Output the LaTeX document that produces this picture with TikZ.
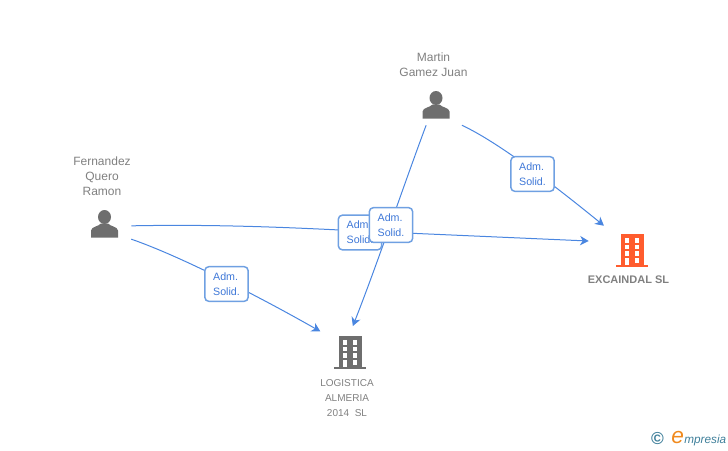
\documentclass[tikz,border=0pt]{standalone}
\usepackage{fontspec}
\setmainfont{Liberation Sans}
\usetikzlibrary{arrows.meta}

\definecolor{linkblue}{HTML}{4A86E0}
\definecolor{boxblue}{HTML}{6FA0E2}
\definecolor{textblue}{HTML}{3F78D8}
\definecolor{icongray}{HTML}{6E6E6E}
\definecolor{namegray}{HTML}{808080}
\definecolor{mainorange}{HTML}{FF5C2E}
\definecolor{logoteal}{HTML}{3F7F9A}
\definecolor{logoorange}{HTML}{F08A1E}

\begin{document}
\begin{tikzpicture}[
	x=0.75pt,
	y=-0.75pt,
	link/.style={
		draw=linkblue,
		line width=0.75pt
		},
	linktip/.style={
		-{Stealth[length=6.5pt,width=7pt,inset=2pt]}
		},
	role/.style={
		rectangle,
		rounded corners=3pt,
		draw=boxblue,
		line width=1.1pt,
		fill=white,
		text=textblue,
		font=\fontsize{8}{11.25}\selectfont,
		align=left,
		minimum width=32.5pt,
		minimum height=26pt,
		inner sep=0pt
	},
	label/.style={
		text=namegray,
		font=\fontsize{9}{11.25}\selectfont,
		align=center,
		inner sep=0pt
	},
	person/.style={
		minimum width=39pt,
		minimum height=30pt,
		inner sep=0pt
	},
	company/.style={
		minimum width=44pt,
		minimum height=40pt,
		inner sep=0pt
	},
	mainco/.style={
		minimum width=64.5pt,
		minimum height=37.5pt,
		inner sep=0pt
	},
	bust/.pic={
		\fill[icongray] (0,-6.5) ellipse [x radius=6.5, y radius=7];
		\fill[icongray] (-13.5,14) -- (-13.5,7) .. controls (-13,3) and (-6,3) .. (-3.5,0)
			-- (3.5,0) .. controls (6,3) and (13,3) .. (13.5,7) -- (13.5,14) -- cycle;
	},
	tower/.pic={
		\fill[pic actions] (-11,-17) rectangle (12,15);
		\fill[pic actions] (-16,14) rectangle (16,16);
		\foreach \col in {-7.3,2.7}
			\foreach \row in {-13,-6.5,0}
				\fill[white] (\col,\row) rectangle ++(4.6,4.5);
		\fill[white] (-7.3,7) rectangle (-2.7,14);
		\fill[white] (2.7,7) rectangle (7.3,11.5);
	}
]

\useasboundingbox (0,0) rectangle (728,450);

% Icons
\path (104.5,223.5) pic {bust};
\path (436,104.5) pic {bust};
\path (350,353) pic[fill=icongray] {tower};
\path (632,251) pic[fill=mainorange] {tower};

% Anchors for the connectors
\node [person] (Fernandez) at (105,224) {};
\node [person] (Martin) at (436,105) {};
\node [company] (Logistica) at (350,353) {};
\node [mainco] (Excaindal) at (632,251) {};

% Names
\node [label] (Fernandez label) at (102,176) {Fernandez\\Quero\\Ramon};
\node [label] (Martin label) at (433.5,64.5) {Martin\\Gamez Juan};
\node [label, font=\fontsize{7.5}{11.25}\selectfont] (Logistica label) at (347,398) {LOGISTICA\\ALMERIA\\2014\ \ SL};
\node [label, font=\bfseries\fontsize{8.25}{11.25}\selectfont] (Excaindal label) at (628.5,279.5) {EXCAINDAL SL};

% Connectors
\draw [link, linktip] (Fernandez.-30) .. controls (180,256) and (260,297) .. (Logistica.144);
\draw [link, linktip] (Fernandez.-4) .. controls (220,224) and (300,228) .. (360,231) -- (Excaindal.167);
\draw [link, linktip] (Martin.-116) .. controls (402,190) and (378,262) .. (Logistica.84);
\draw [link, linktip] (Martin.-38) .. controls (500,143) and (560,190) .. (Excaindal.138);

% Role boxes
\node [role] (Adm A) at (226.5,284) {Adm.\\Solid.};
\node [role] (Adm B) at (360,232.5) {Adm.\\Solid.};
\node [role] (Adm C) at (391,225) {Adm.\\Solid.};
\node [role] (Adm D) at (532.5,174) {Adm.\\Solid.};

% Logo
\node [text=logoteal, font=\bfseries\fontsize{13}{13}\selectfont, inner sep=0pt] (Logo mark) at (657.5,438.5) {©};
\node [anchor=base west, text=logoorange, inner sep=0pt, font=\itshape\fontsize{17}{17}\selectfont] (Logo e) at (671,443) {e};
\node [anchor=base west, text=logoteal, inner sep=0pt, font=\itshape\fontsize{8.8}{10}\selectfont] (Logo word) at (Logo e.base east) {mpresia};

\end{tikzpicture}
\end{document}
